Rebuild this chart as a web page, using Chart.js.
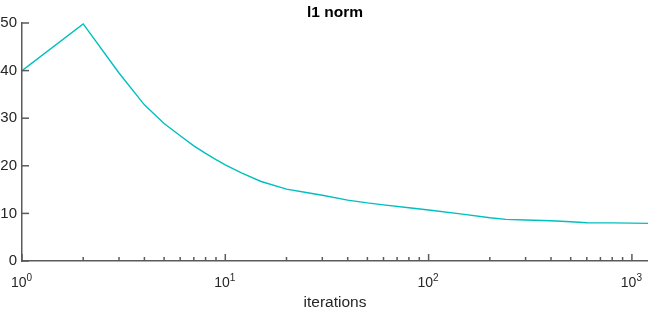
<!DOCTYPE html>
<html>
<head>
<meta charset="utf-8">
<script src="https://cdn.jsdelivr.net/npm/chart.js@4/dist/chart.umd.min.js"></script>
<style>
  html, body { margin: 0; padding: 0; background: #fff; }
  #wrap { width: 648px; height: 311px; position: relative; }
</style>
</head>
<body>
<div id="wrap"><canvas id="c" width="648" height="311"></canvas></div>
<script>
// ---- data ----
const iterations = [1, 2, 3, 4, 5, 6, 7, 8, 9, 10, 12, 15, 20, 25, 30, 40, 50, 60, 80, 100, 150, 200, 240, 300, 400, 500, 600, 800, 1000, 1200];
const l1Values   = [40, 49.8, 39.5, 32.8, 28.9, 26.3, 24.2, 22.6, 21.3, 20.2, 18.5, 16.7, 15.1, 14.4, 13.8, 12.8, 12.2, 11.8, 11.2, 10.7, 9.8, 9.1, 8.75, 8.6, 8.45, 8.25, 8.05, 8.0, 7.95, 7.9];
const yTickValues = [0, 10, 20, 30, 40, 50];
const xMajorExponents = [0, 1, 2, 3];
const chartTitle = 'l1 norm';
const xAxisLabel = 'iterations';

const AXIS = '#5a5a5a';
const TEXT = '#262626';
const FONT = '"Liberation Sans", Arial, Helvetica, sans-serif';

const decorPlugin = {
  id: 'decor',
  afterDraw(chart) {
    const ctx = chart.ctx;
    const area = chart.chartArea;
    const xs = chart.scales.x, ys = chart.scales.y;
    ctx.save();
    ctx.strokeStyle = AXIS;
    ctx.lineWidth = 1.5;
    // y inward ticks
    yTickValues.forEach(v => {
      const py = ys.getPixelForValue(v);
      ctx.beginPath();
      ctx.moveTo(area.left, py);
      ctx.lineTo(area.left + 7, py);
      ctx.stroke();
    });
    // x inward ticks (major + minor)
    const minV = xs.min, maxV = xs.max;
    for (let k = 0; k <= 3; k++) {
      for (let d = 1; d <= 9; d++) {
        const v = d * Math.pow(10, k);
        if (v < minV || v > maxV) continue;
        const px = xs.getPixelForValue(v);
        const len = d === 1 ? 7 : 4;
        ctx.beginPath();
        ctx.moveTo(px, area.bottom);
        ctx.lineTo(px, area.bottom - len);
        ctx.stroke();
      }
    }
    // x tick labels 10^k
    ctx.fillStyle = TEXT;
    ctx.textBaseline = 'alphabetic';
    xMajorExponents.forEach(e => {
      const v = Math.pow(10, e);
      const px = xs.getPixelForValue(v);
      ctx.font = '14px ' + FONT;
      const base = '10';
      const sup = String(e);
      const wb = ctx.measureText(base).width;
      ctx.font = '10px ' + FONT;
      const ws = ctx.measureText(sup).width;
      const total = wb + ws;
      const x0 = px - total / 2 - 0.5;
      ctx.font = '14px ' + FONT;
      ctx.textAlign = 'left';
      ctx.fillText(base, x0, 286.5);
      ctx.font = '10px ' + FONT;
      ctx.fillText(sup, x0 + wb, 280.5);
    });
    // x axis title
    ctx.font = '15.5px ' + FONT;
    ctx.textAlign = 'center';
    ctx.fillText(xAxisLabel, (area.left + area.right) / 2, 306.5);
    // chart title
    ctx.font = 'bold 15.5px ' + FONT;
    ctx.fillStyle = '#000';
    ctx.fillText(chartTitle, (area.left + area.right) / 2, 16.5);
    ctx.restore();
  }
};

new Chart(document.getElementById('c'), {
  type: 'line',
  data: {
    datasets: [{
      data: iterations.map((x, i) => ({ x: x, y: l1Values[i] })),
      borderColor: 'rgb(0,191,191)',
      borderWidth: 1.4,
      pointRadius: 0,
      tension: 0,
      fill: false
    }]
  },
  options: {
    responsive: false,
    animation: false,
    devicePixelRatio: 1,
    layout: { padding: { top: 23, right: 0, bottom: 0, left: 0 } },
    plugins: { legend: { display: false }, title: { display: false }, tooltip: { enabled: false } },
    scales: {
      x: {
        type: 'logarithmic',
        min: 1,
        max: 1200,
        grid: { display: false, drawTicks: false },
        border: { display: true, color: AXIS, width: 1.5 },
        ticks: { display: false },
        afterFit(scale) { scale.height = 50; }
      },
      y: {
        type: 'linear',
        min: 0,
        max: 50,
        afterBuildTicks(scale) { scale.ticks = yTickValues.map(v => ({ value: v })); },
        grid: { display: false, drawTicks: false },
        border: { display: true, color: AXIS, width: 1.5 },
        ticks: { color: TEXT, font: { size: 15, family: FONT }, padding: 5 },
        afterFit(scale) { scale.width = 22; }
      }
    }
  },
  plugins: [decorPlugin]
});
</script>
</body>
</html>
